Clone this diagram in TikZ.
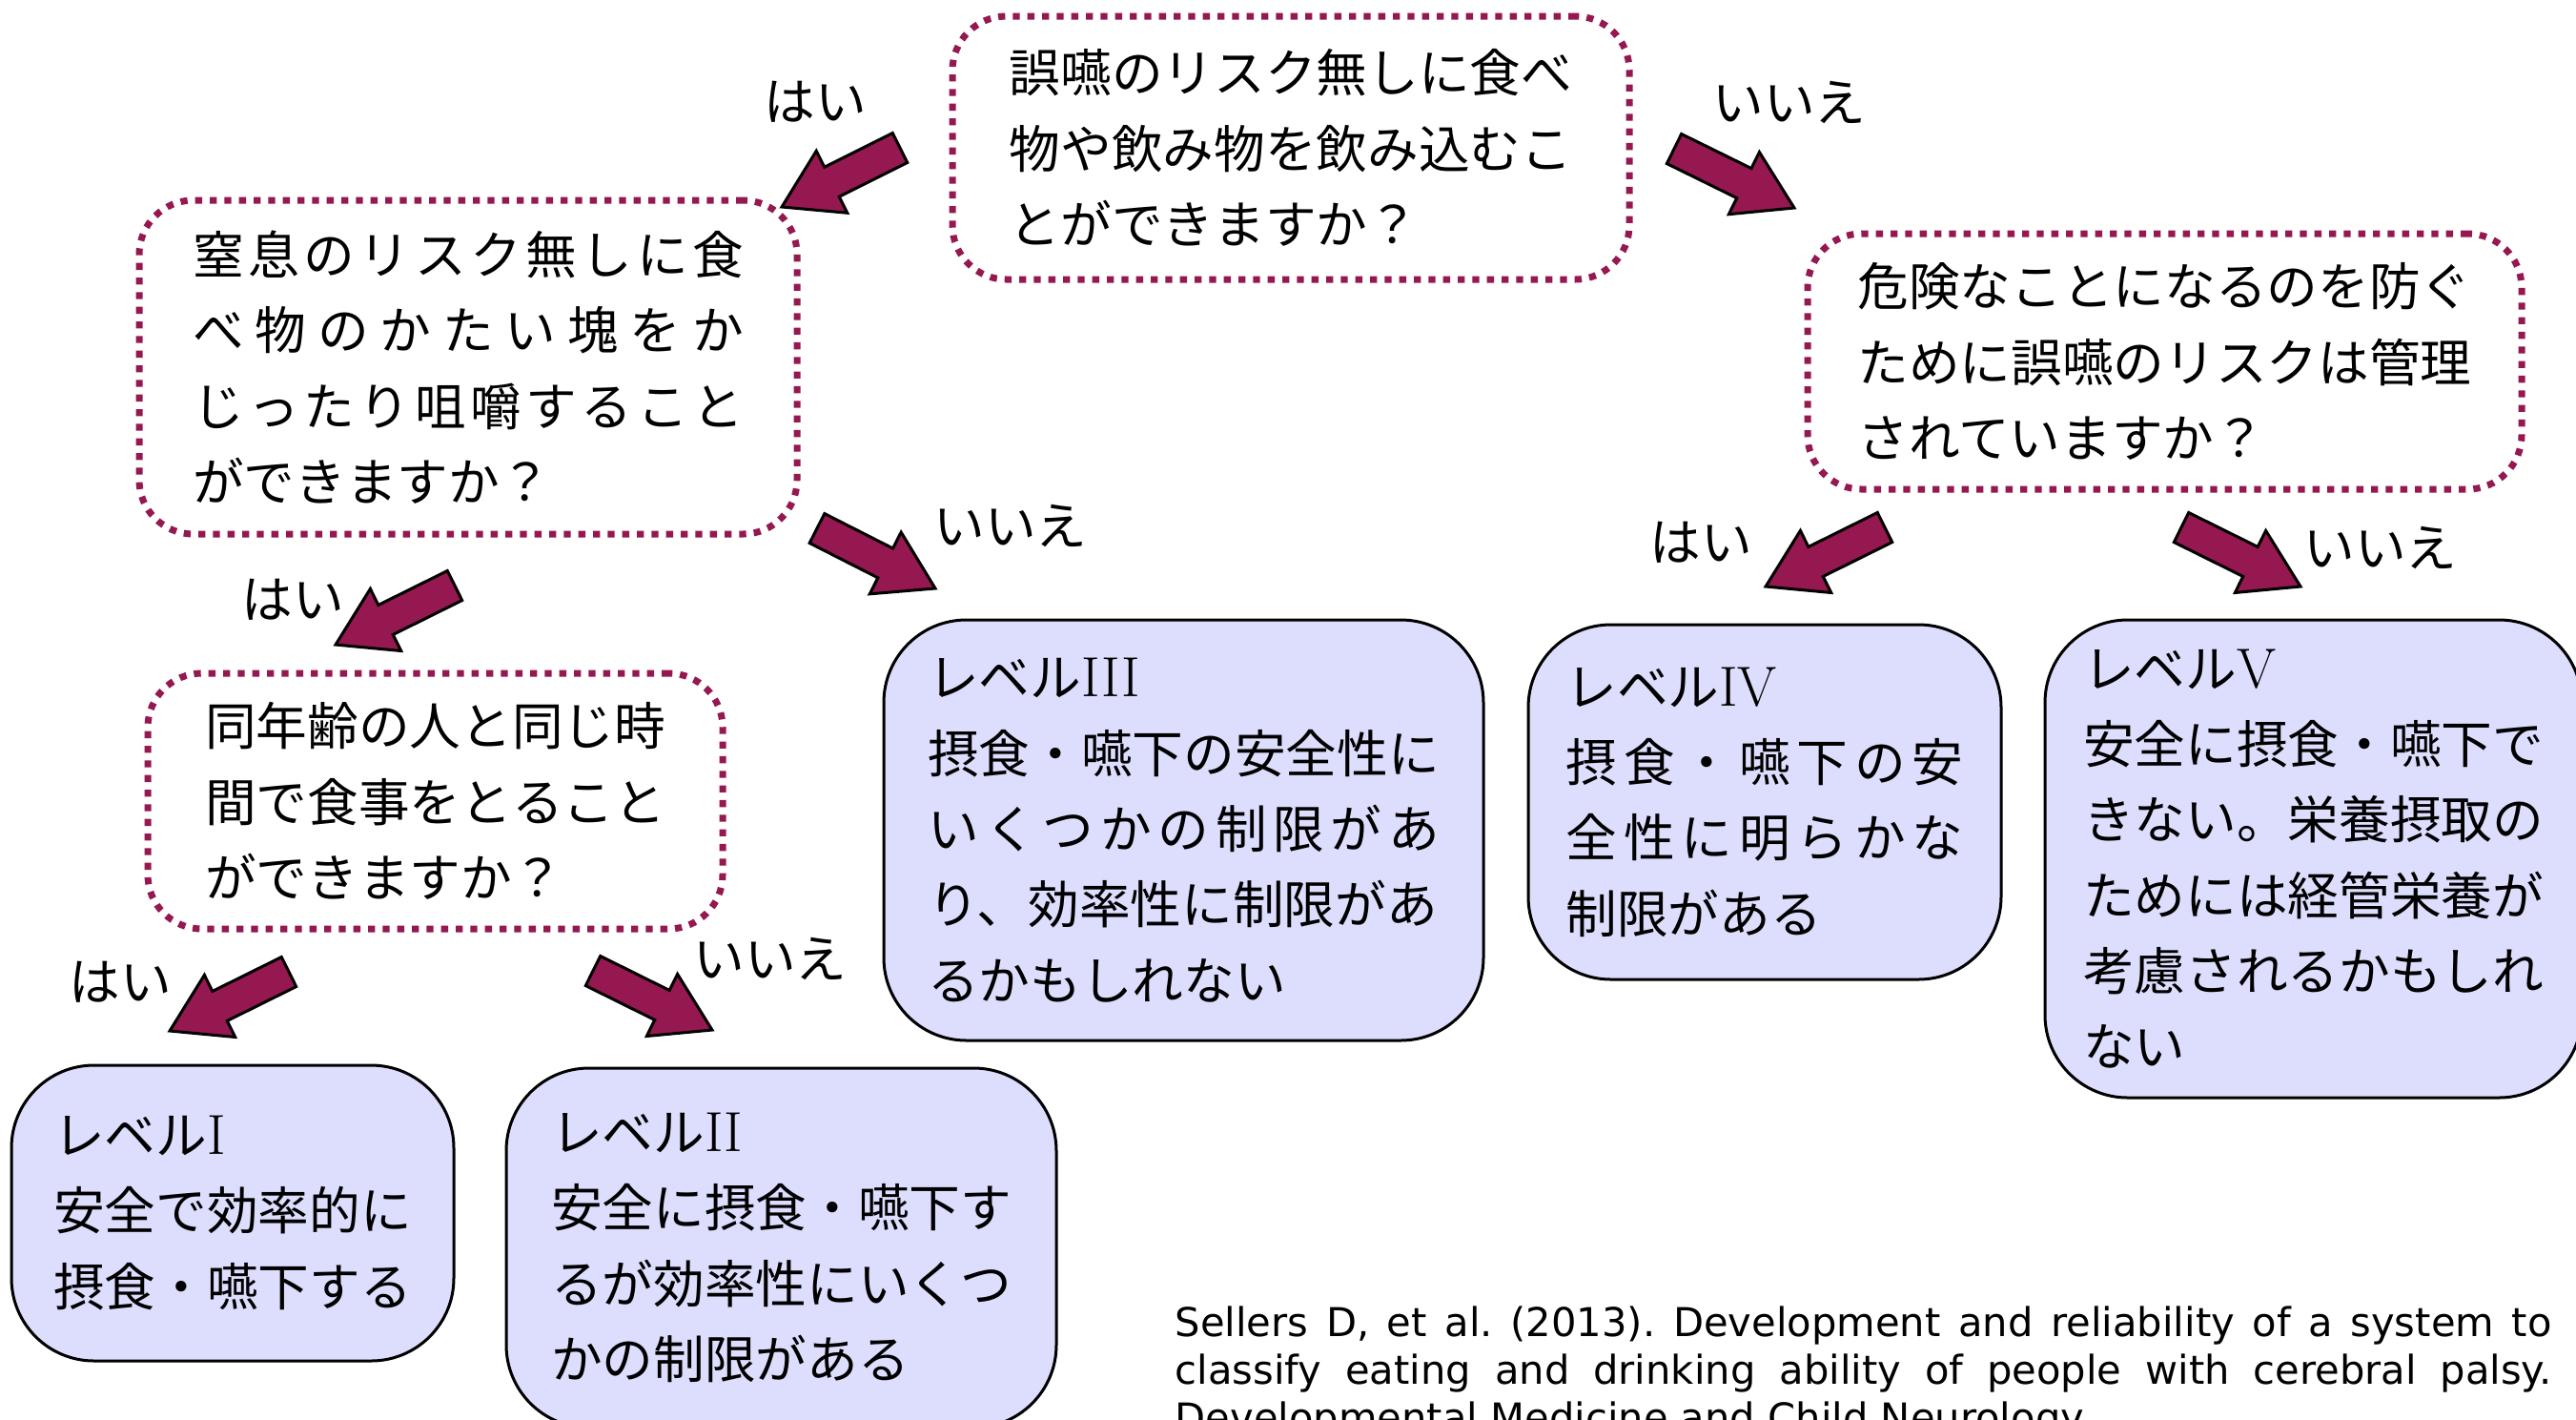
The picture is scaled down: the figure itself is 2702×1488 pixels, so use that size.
\documentclass[tikz,border=0pt]{standalone}
\usepackage{fontspec}
\newfontfamily\jp{Noto Sans CJK JP}
\newfontfamily\citefont{DejaVu Sans}
\usetikzlibrary{calc}
\definecolor{mag}{RGB}{149,24,80}
\definecolor{lav}{RGB}{221,221,253}
\def\spreadchars#1{#1\futurelet\spnext\spreadcheck}
\def\spreadcheck{\ifx\spnext\relax\expandafter\spreadstop\else\hfil\expandafter\spreadchars\fi}
\def\spreadstop\relax{}
\newcommand\spreadline[2]{\hbox to #1{\spreadchars#2\relax}}
\newcommand\lvl[1]{レベル{\rmfamily\fontsize{17.8}{23.8}\selectfont #1}}
\newcommand\blockarrow[2]{%
  \coordinate (ban) at ($(#2)!17.6pt!(#1)$);
  \draw[barrow] ($(#1)!5.2pt!90:(#2)$) -- ($(ban)!5.2pt!90:(#2)$) -- ($(ban)!10.9pt!90:(#2)$) -- (#2)
    -- ($(ban)!10.9pt!-90:(#2)$) -- ($(ban)!5.2pt!-90:(#2)$) -- ($(#1)!5.2pt!-90:(#2)$) -- cycle;}
\tikzset{
  jpfont/.style={font=\jp\fontsize{16.1}{23.8}\selectfont},
  qbox/.style={jpfont, draw=mag, line width=2.1pt, dash pattern=on 2.2pt off 2.4pt,
    rounded corners=17pt, fill=white, inner sep=0pt, align=left},
  lbox/.style={jpfont, draw=black, line width=0.9pt, rounded corners=26pt, fill=lav,
    inner sep=0pt, align=left},
  ans/.style={jpfont, inner sep=0pt},
  barrow/.style={fill=mag, draw=black, line width=0.9pt, line join=miter},
}
\begin{document}
\begin{tikzpicture}[x=0.3pt,y=-0.3pt]
\fill[white] (0,0) rectangle (2702,1488);
\useasboundingbox (0,0) rectangle (2702,1488);

% question boxes
\node[qbox, minimum width=213pt, minimum height=82.8pt] (q1) at (1354,155)
  {誤嚥のリスク無しに食べ\\物や飲み物を飲み込むこ\\とができますか？};
\node[qbox, minimum width=207pt, minimum height=105pt] (q2) at (491,385)
  {\spreadline{10.77em}{窒息のリスク無しに食}\\\spreadline{10.77em}{べ物のかたい塊をか}\\\spreadline{10.77em}{じったり咀嚼すること}\\ができますか？};
\node[qbox, minimum width=224.7pt, minimum height=80.4pt] (q3) at (2270.5,379)
  {危険なことになるのを防ぐ\\ために誤嚥のリスクは管理\\されていますか？};
\node[qbox, minimum width=180.9pt, minimum height=80.4pt] (q4) at (456.5,840)
  {同年齢の人と同じ時\\間で食事をとること\\ができますか？};

% level boxes
\node[lbox, minimum width=139.2pt, minimum height=93pt] (l1) at (244,1272)
  {\lvl{I}\\安全で効率的に\\摂食・嚥下する};
\node[lbox, minimum width=173.1pt, minimum height=113.1pt] (l2) at (819.5,1308.5)
  {\lvl{II}\\安全に摂食・嚥下す\\るが効率性にいくつ\\かの制限がある};
\node[lbox, minimum width=188.7pt, minimum height=132.3pt] (l3) at (1241.5,870.5)
  {\lvl{III}\\摂食・嚥下の安全性に\\\spreadline{10em}{いくつかの制限があ}\\り、効率性に制限があ\\るかもしれない};
\node[lbox, minimum width=148.8pt, minimum height=111.6pt] (l4) at (1851,841)
  {\lvl{IV}\\\spreadline{7.77em}{摂食・嚥下の安}\\\spreadline{7.77em}{全性に明らかな}\\制限がある};
\node[lbox, minimum width=168.9pt, minimum height=150.3pt] (l5) at (2426.5,900.5)
  {\lvl{V}\\安全に摂食・嚥下で\\きない。栄養摂取の\\ためには経管栄養が\\考慮されるかもしれ\\ない};

% answer labels
\node[ans] (y1) at (855,107) {はい};
\node[ans] (n1) at (1877,107) {いいえ};
\node[ans] (n2) at (1060,551) {いいえ};
\node[ans] (y2) at (307,629) {はい};
\node[ans] (y3) at (126,1030) {はい};
\node[ans] (n3) at (808,1005) {いいえ};
\node[ans] (y4) at (1784,569) {はい};
\node[ans] (n4) at (2497,574) {いいえ};

% block arrows
\coordinate (a1t) at (944,155);  \coordinate (a1h) at (820,217);
\coordinate (a2t) at (1756,156); \coordinate (a2h) at (1882,218);
\coordinate (a3t) at (477,614);  \coordinate (a3h) at (352,676);
\coordinate (a4t) at (857,554);  \coordinate (a4h) at (981,617);
\coordinate (a5t) at (303,1019); \coordinate (a5h) at (178,1081);
\coordinate (a6t) at (622,1018); \coordinate (a6h) at (747,1080);
\coordinate (a7t) at (1977,553); \coordinate (a7h) at (1852,615);
\coordinate (a8t) at (2288,553); \coordinate (a8h) at (2413,615);
\blockarrow{a1t}{a1h}
\blockarrow{a2t}{a2h}
\blockarrow{a3t}{a3h}
\blockarrow{a4t}{a4h}
\blockarrow{a5t}{a5h}
\blockarrow{a6t}{a6h}
\blockarrow{a7t}{a7h}
\blockarrow{a8t}{a8h}

% citation
\node[anchor=north west, inner sep=0pt, text width=433.2pt, align=justify,
  font=\citefont\fontsize{12.5}{15}\selectfont\frenchspacing] (cite) at (1232,1369)
  {Sellers D, et al. (2013). Development and reliability of a system to\linebreak classify eating and drinking ability of people with cerebral palsy.\linebreak Developmental Medicine and Child Neurology.};
\end{tikzpicture}
\end{document}
